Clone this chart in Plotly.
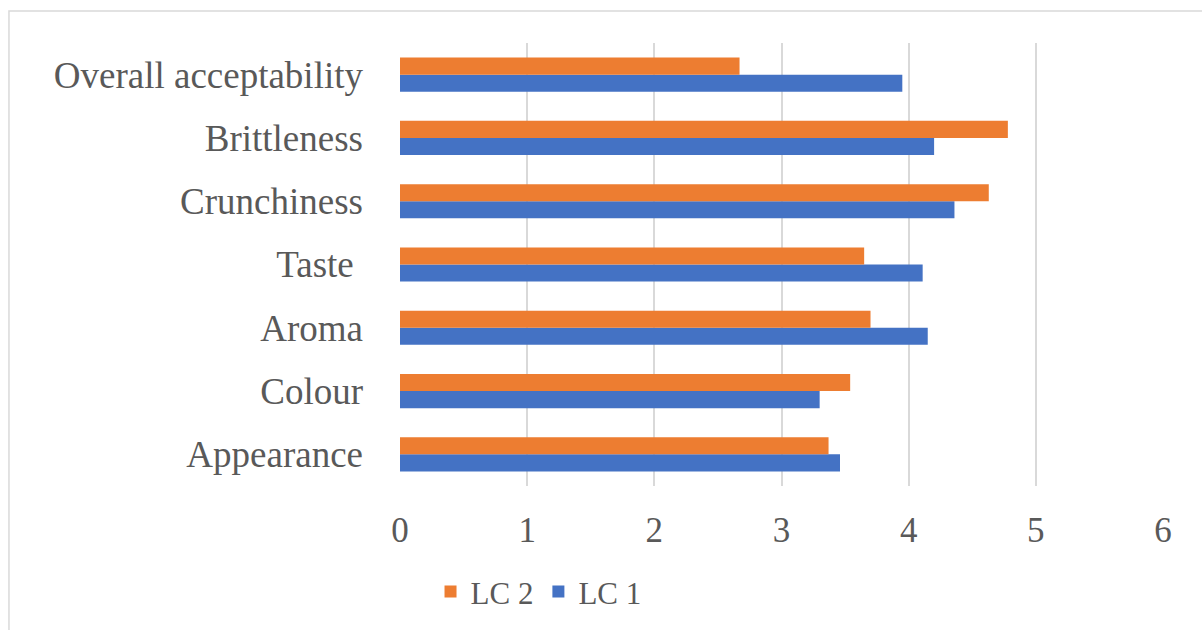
import plotly.graph_objects as go

# Sensory attributes (bottom to top) and mean scores per sample
attributes = ["Appearance", "Colour", "Aroma", "Taste ", "Crunchiness",
              "Brittleness", "Overall acceptability"]
lc1_scores = [3.46, 3.30, 4.15, 4.11, 4.36, 4.20, 3.95]
lc2_scores = [3.37, 3.54, 3.70, 3.65, 4.63, 4.78, 2.67]
x_ticks = [0, 1, 2, 3, 4, 5, 6]

TEXT = "#595959"
GRID = "#d9d9d9"
FONT = "Liberation Serif"

fig = go.Figure()
fig.add_trace(go.Bar(y=attributes, x=lc1_scores, name="LC 1", orientation="h",
                     marker=dict(color="#4472C4", line=dict(width=0))))
fig.add_trace(go.Bar(y=attributes, x=lc2_scores, name="LC 2", orientation="h",
                     marker=dict(color="#ED7D31", line=dict(width=0))))

fig.update_layout(
    width=1202, height=630,
    margin=dict(l=400, r=39, t=43, b=143),
    paper_bgcolor="white", plot_bgcolor="white",
    barmode="group", bargap=0.46, bargroupgap=0,
    font=dict(family=FONT, color=TEXT, size=34),
    showlegend=True,
    legend=dict(orientation="h", traceorder="reversed",
                x=0.04, xanchor="left", y=-0.236, yanchor="middle",
                font=dict(size=31, color=TEXT, family=FONT),
                itemwidth=30, bgcolor="rgba(0,0,0,0)"),
    xaxis=dict(range=[0, 6], tickvals=x_ticks, showgrid=True, gridcolor=GRID,
               gridwidth=2, zeroline=False, showline=False,
               tickfont=dict(size=35, family=FONT, color=TEXT),
               ticks="", ticklabelstandoff=20, fixedrange=True),
    yaxis=dict(type="category", categoryorder="array", categoryarray=attributes,
               showgrid=False, zeroline=False, showline=False, ticks="",
               tickfont=dict(size=37, family=FONT, color=TEXT),
               ticklabelstandoff=36, fixedrange=True),
    shapes=[dict(type="rect", xref="paper", yref="paper",
                 x0=-0.5125, x1=1.08, y0=-0.4, y1=1.072,
                 line=dict(color=GRID, width=1.5), fillcolor="rgba(0,0,0,0)",
                 layer="below")],
)

fig.write_html("out.html")
